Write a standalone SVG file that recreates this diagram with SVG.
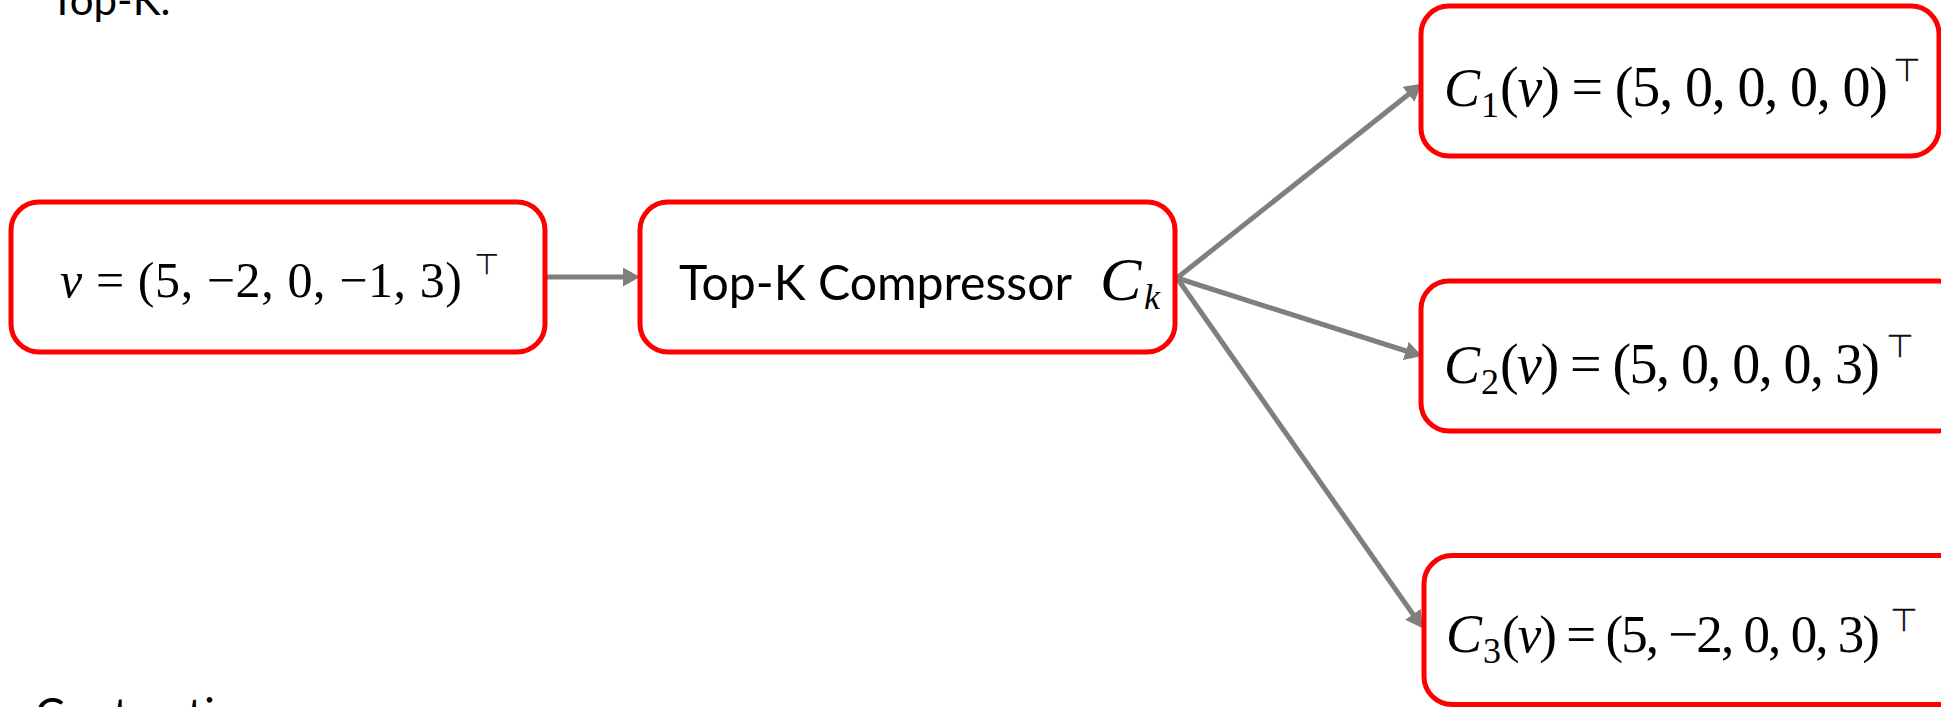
<svg xmlns="http://www.w3.org/2000/svg" width="1941" height="707" viewBox="0 0 1941 707">
<style>
.box{fill:#ffffff;stroke:#ff0000;stroke-width:5}
.lbl{font-family:Lato,"Open Sans","Liberation Sans",sans-serif;fill:#000000}
.m{font-family:"Liberation Serif","DejaVu Serif",serif;fill:#000000}
.it{font-style:italic}
.tp{font-family:"DejaVu Sans","Liberation Sans",sans-serif;fill:#111111}
.edge{stroke:#7f7f7f;stroke-width:5;fill:none;marker-end:url(#ah)}
</style>
<defs>
<marker id="ah" markerUnits="userSpaceOnUse" markerWidth="17" markerHeight="19" viewBox="0 0 17 19" refX="7" refY="9.5" orient="auto">
<path d="M0,0 L17,9.5 L0,19 z" fill="#7f7f7f"/>
</marker>
</defs>
<rect width="1941" height="707" fill="#ffffff"/>
<text class="lbl" x="50" y="15" font-size="42">Top-K.</text>
<text class="lbl" x="35" y="730" font-size="44">Contraction</text>
<g id="connectors">
<line class="edge" x1="546" y1="277" x2="630" y2="277"/>
<line class="edge" x1="1177" y1="278" x2="1414" y2="90"/>
<line class="edge" x1="1177" y1="278" x2="1412.5" y2="353"/>
<line class="edge" x1="1177" y1="278" x2="1417" y2="620"/>
</g>
<g id="node-v">
<rect class="box" x="11" y="202" width="534" height="150" rx="28"/>
<text class="m" x="60" y="297" font-size="50" textLength="402" lengthAdjust="spacing"><tspan class="it">v</tspan> = (5, −2, 0, −1, 3)</text>
<text class="tp" x="474" y="274" font-size="29">⊤</text>
</g>
<g id="node-topk">
<rect class="box" x="640" y="202" width="535" height="150" rx="28"/>
<text class="lbl" x="679" y="300" font-size="48" textLength="393" lengthAdjust="spacingAndGlyphs">Top-K Compressor</text>
<text class="m it" x="1100" y="300" font-size="62">C</text>
<text class="m it" x="1144" y="309" font-size="36">k</text>
</g>
<g id="node-c1">
<rect class="box" x="1421" y="6" width="518" height="150" rx="28"/>
<text class="m it" x="1444" y="106" font-size="54">C</text>
<text class="m" x="1481" y="117" font-size="36">1</text>
<text class="m" x="1500" y="106" font-size="56" textLength="388" lengthAdjust="spacing">(<tspan class="it">v</tspan>) = (5, 0, 0, 0, 0)</text>
<text class="tp" x="1893" y="81" font-size="32">⊤</text>
</g>
<g id="node-c2">
<rect class="box" x="1421" y="281" width="545" height="150" rx="28"/>
<text class="m it" x="1444" y="383" font-size="54">C</text>
<text class="m" x="1481" y="394" font-size="36">2</text>
<text class="m" x="1500" y="383" font-size="56" textLength="380" lengthAdjust="spacing">(<tspan class="it">v</tspan>) = (5, 0, 0, 0, 3)</text>
<text class="tp" x="1886" y="357" font-size="32">⊤</text>
</g>
<g id="node-c3">
<rect class="box" x="1424" y="555.5" width="560" height="149" rx="28"/>
<text class="m it" x="1446" y="652" font-size="54">C</text>
<text class="m" x="1483" y="663" font-size="36">3</text>
<text class="m" x="1502" y="652" font-size="53" textLength="378" lengthAdjust="spacing">(<tspan class="it">v</tspan>) = (5, −2, 0, 0, 3)</text>
<text class="tp" x="1890" y="631" font-size="32">⊤</text>
</g>
</svg>
